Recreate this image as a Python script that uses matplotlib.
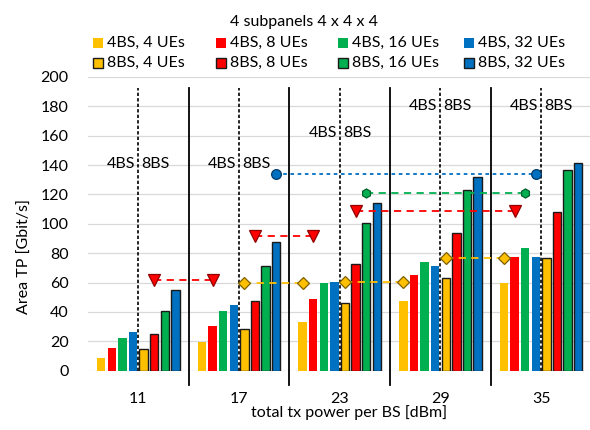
import matplotlib
matplotlib.use("Agg")
import matplotlib.pyplot as plt
from matplotlib.patches import Rectangle
import numpy as np

plt.rcParams['font.family'] = ['Lato', 'DejaVu Sans']

# data
power = ['11', '17', '23', '29', '35']
series = ['4BS, 4 UEs', '4BS, 8 UEs', '4BS, 16 UEs', '4BS, 32 UEs',
          '8BS, 4 UEs', '8BS, 8 UEs', '8BS, 16 UEs', '8BS, 32 UEs']
tp_4bs_4 = [8.8, 19.3, 32.9, 47.4, 59.7]
tp_4bs_8 = [15.2, 30.6, 48.8, 65.4, 77.6]
tp_4bs_16 = [22.5, 40.8, 59.7, 74.2, 83.5]
tp_4bs_32 = [26.1, 44.5, 60.6, 71.3, 77.4]
tp_8bs_4 = [14.5, 28.4, 46.3, 63.3, 76.5]
tp_8bs_8 = [25.2, 47.7, 72.6, 94.0, 108.0]
tp_8bs_16 = [40.6, 71.5, 100.8, 122.8, 136.4]
tp_8bs_32 = [54.9, 87.8, 114.2, 132.1, 141.4]
values = [tp_4bs_4, tp_4bs_8, tp_4bs_16, tp_4bs_32,
          tp_8bs_4, tp_8bs_8, tp_8bs_16, tp_8bs_32]

# reference markers: 8BS value at one power reached by 4BS at a higher power
ref_series = [5, 5, 5, 4, 4, 4, 6, 7]
ref_from = [0, 1, 2, 1, 2, 3, 2, 1]
ref_to = [1, 2, 4, 2, 3, 4, 4, 4]
ref_value = [62, 92, 108.5, 59.5, 60.5, 77, 121, 134]

colors = ['#FFC000', '#FF0000', '#00B050', '#0070C0']
edge_dark = ['#7F6000', '#900000', '#00602C', '#003A66']
markers = ['D', 'v', 'h', 'o']
msizes = [6.5, 8, 6.5, 7]
dashes = [(0, (4, 3)), (0, (4, 3)), (0, (4, 3)), (0, (2, 2))]
label_y = [141, 141, 162, 180, 180]

fs = 11.5
fig = plt.figure(figsize=(5.9, 4.3), dpi=100)
ax = fig.add_axes([88 / 590, 59.3 / 430, 503.5 / 590, 293.7 / 430])

x = np.arange(len(power))
pitch = 0.1053
width = 0.083
offsets = (np.arange(8) - 3.5) * pitch

for j in range(8):
    c = colors[j % 4]
    if j < 4:
        ax.bar(x + offsets[j], values[j], width, color=c, zorder=2)
    else:
        ax.bar(x + offsets[j], values[j], width, color=c, edgecolor='#1a1a1a',
               linewidth=1.0, zorder=2)

for s, a, b, v in zip(ref_series, ref_from, ref_to, ref_value):
    k = s % 4
    xa = a + offsets[s]
    xb = b + offsets[s - 4]
    ax.plot([xa, xb], [v, v], color=colors[k], linestyle=dashes[k], lw=1.3, zorder=4)
    ax.plot([xa, xb], [v, v], linestyle='none', marker=markers[k], ms=msizes[k],
            mfc=colors[k], mec=edge_dark[k], mew=0.9, zorder=5)

for i in range(len(power)):
    ax.plot([i, i], [0, 192.5], color='black', linestyle=(0, (2, 1.3)), lw=1.2, zorder=3)
    ax.text(i - 0.03, label_y[i], '4BS', ha='right', va='center', fontsize=fs)
    ax.text(i + 0.03, label_y[i], '8BS', ha='left', va='center', fontsize=fs)
    if i < len(power) - 1:
        ax.plot([i + 0.5, i + 0.5], [-9.7, 192.5], color='black', lw=1.3,
                clip_on=False, zorder=3)

ax.set_xlim(-0.5, 4.5)
ax.set_ylim(0, 200)
ax.set_yticks(np.arange(0, 201, 20))
ax.set_xticks(x)
ax.set_xticklabels(power)
ax.tick_params(length=0, labelsize=fs, colors='black')
ax.tick_params(axis='x', pad=15)
ax.tick_params(axis='y', pad=14)
ax.grid(axis='y', color='#D9D9D9', lw=0.9, zorder=0)
ax.set_axisbelow(True)
for sp in ax.spines.values():
    sp.set_visible(False)

fig.text(25 / 590, 1 - 257 / 430, 'Area TP [Gbit/s]', rotation=90,
         ha='center', va='center', fontsize=fs)
fig.text(349 / 590, 1 - 413 / 430, 'total tx power per BS [dBm]',
         ha='center', va='center', fontsize=fs)

# legend drawn by hand
fig.text(303.5 / 590, 1 - 22 / 430, '4 subpanels 4 x 4 x 4', ha='center',
         va='center', fontsize=fs)
col_x = [93, 216, 338, 464]
row_y = [43, 63]
for j, name in enumerate(series):
    cx = col_x[j % 4]
    cy = row_y[j // 4]
    ec = '#1a1a1a' if j >= 4 else 'none'
    fig.patches.append(Rectangle((cx / 590, (430 - cy - 5) / 430), 10 / 590, 10 / 430,
                                 transform=fig.transFigure, facecolor=colors[j % 4],
                                 edgecolor=ec, lw=1.0))
    fig.text((cx + 14) / 590, 1 - cy / 430, name, ha='left', va='center', fontsize=fs)

fig.savefig('out.png', dpi=100)
